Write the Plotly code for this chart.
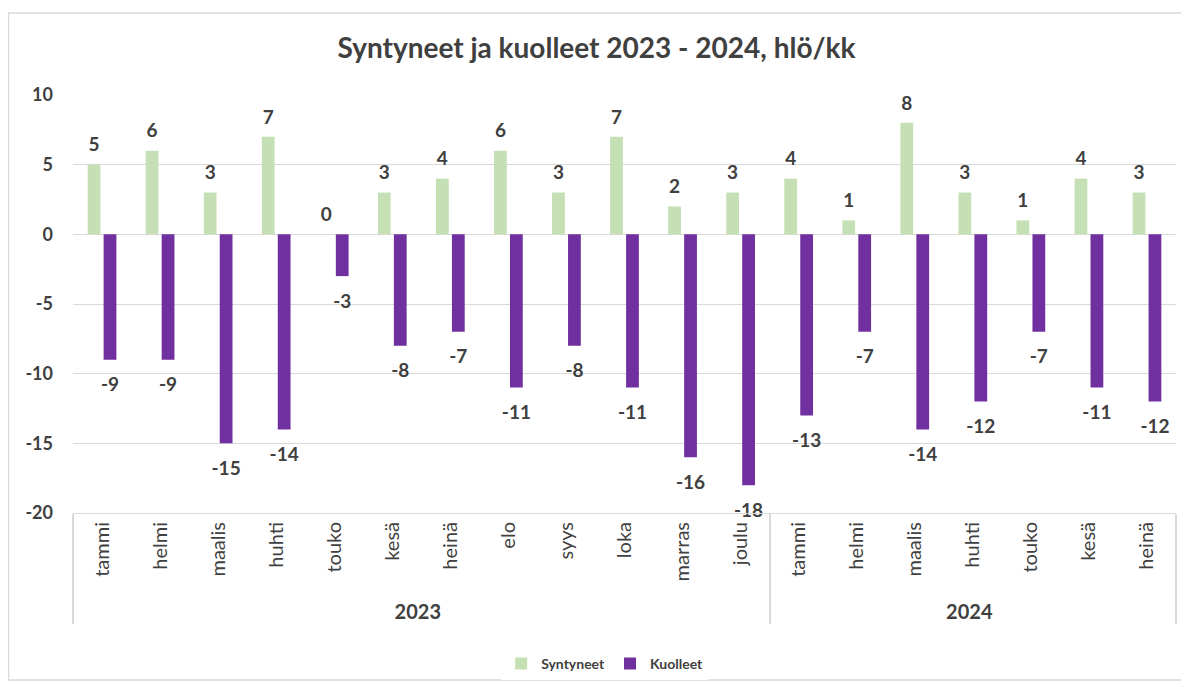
import plotly.graph_objects as go

years = ["2023"] * 12 + ["2024"] * 7
months = ["tammi", "helmi", "maalis", "huhti", "touko", "kesä", "heinä", "elo",
          "syys", "loka", "marras", "joulu",
          "tammi", "helmi", "maalis", "huhti", "touko", "kesä", "heinä"]
syntyneet = [5, 6, 3, 7, 0, 3, 4, 6, 3, 7, 2, 3, 4, 1, 8, 3, 1, 4, 3]
kuolleet = [-9, -9, -15, -14, -3, -8, -7, -11, -8, -11, -16, -18, -13, -7, -14, -12, -7, -11, -12]
yticks = [10, 5, 0, -5, -10, -15, -20]

FONT = "Lato, 'Open Sans', sans-serif"
TXT = "#404040"
GREEN = "#C5E0B4"
PURPLE = "#7030A0"
BARGAP = 0.45

yr_labels = ["<b>%s</b>" % y for y in years]
xcats = [yr_labels, months]

fig = go.Figure()
fig.add_trace(go.Bar(x=xcats, y=syntyneet, name="Syntyneet",
                     marker=dict(color=GREEN, line=dict(width=0))))
fig.add_trace(go.Bar(x=xcats, y=kuolleet, name="Kuolleet",
                     marker=dict(color=PURPLE, line=dict(width=0))))
# data labels, grouped the same way as the bars
fig.add_trace(go.Scatter(x=xcats, y=syntyneet, mode="markers+text", showlegend=False,
                         text=[str(v) for v in syntyneet], textposition="top center",
                         marker=dict(size=12, opacity=0),
                         textfont=dict(family=FONT, size=19, color=TXT, weight="bold"),
                         cliponaxis=False, hoverinfo="skip"))
fig.add_trace(go.Scatter(x=xcats, y=kuolleet, mode="markers+text", showlegend=False,
                         text=[str(v) for v in kuolleet], textposition="bottom center",
                         marker=dict(size=26, opacity=0),
                         textfont=dict(family=FONT, size=19, color=TXT, weight="bold"),
                         cliponaxis=False, hoverinfo="skip"))

# page has an 8px body margin: figure coords = screen coords - 8
fig.update_layout(
    width=1177, height=676,
    margin=dict(l=65, r=9, t=87, b=171, autoexpand=False),
    paper_bgcolor="white", plot_bgcolor="white",
    barmode="group", bargap=BARGAP, bargroupgap=0.2,
    scattermode="group", scattergap=BARGAP,
    font=dict(family=FONT, color=TXT),
    title=dict(text="<b>Syntyneet ja kuolleet 2023 - 2024, hlö/kk</b>",
               x=0.5, xanchor="center", y=0.9408, yanchor="middle",
               font=dict(family=FONT, size=28, color=TXT)),
    showlegend=True,
    legend=dict(orientation="h", x=0.482, xanchor="center", y=-0.361, yanchor="middle",
                font=dict(family=FONT, size=14, color=TXT, weight="bold"),
                itemwidth=30, traceorder="normal"),
)
fig.update_xaxes(
    type="multicategory", tickangle=-90,
    tickfont=dict(family=FONT, size=20, color=TXT),
    showline=True, linecolor="#D9D9D9", linewidth=1,
    showdividers=True, dividercolor="#D9D9D9", dividerwidth=1.5,
    ticks="outside", ticklen=8, tickcolor="rgba(0,0,0,0)",
    showgrid=False, automargin=False,
)
fig.update_yaxes(
    range=[-20, 10], tickvals=yticks, ticktext=["<b>%d</b>" % v for v in yticks],
    tickfont=dict(family=FONT, size=18, color=TXT),
    showgrid=True, gridcolor="#D9D9D9", gridwidth=1,
    zeroline=True, zerolinecolor="#D9D9D9", zerolinewidth=1,
    showline=False, ticks="", ticklabelstandoff=19, automargin=False,
)
fig.add_shape(type="rect", xref="paper", yref="paper",
              x0=-0.0585, x1=1.0063, y0=-0.3995, y1=1.196,
              line=dict(color="#D9D9D9", width=1.5), fillcolor="rgba(0,0,0,0)",
              layer="below")

fig.write_html("out.html")
